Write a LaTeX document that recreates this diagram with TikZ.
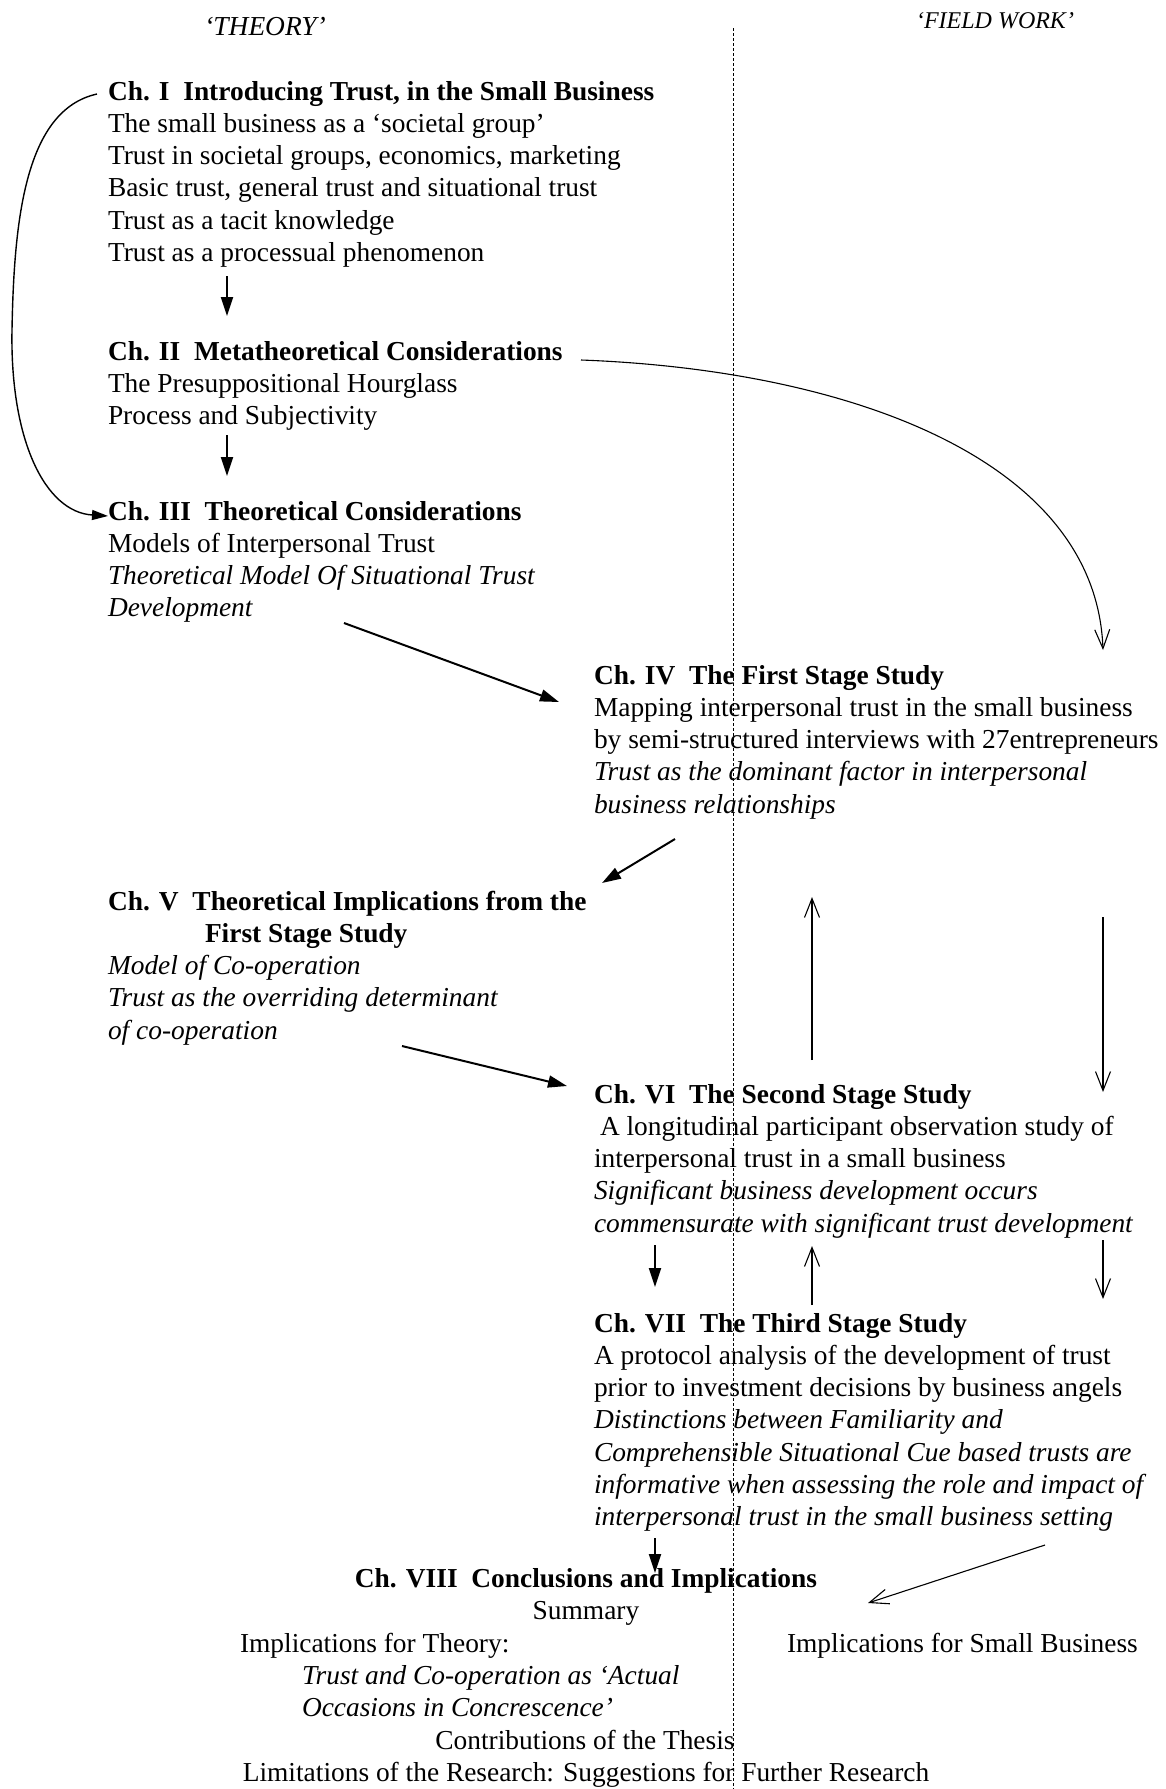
\documentclass[tikz,border=0pt]{standalone}
\usepackage{fontspec}
\setmainfont{Liberation Serif}
\usetikzlibrary{arrows.meta}
\begin{document}
% Multi-line nodes are placed by the baseline of their last line.
\begin{tikzpicture}[x=1pt,y=-1pt,
  txt/.style={anchor=base west,inner sep=0pt,outer sep=0pt,align=left,
    font=\fontsize{27.4}{32.3}\selectfont},
  ctr/.style={anchor=base,inner sep=0pt,outer sep=0pt,align=center,
    font=\fontsize{27.4}{32.3}\selectfont},
  solidarrow/.style={line width=2pt,-{Triangle[length=19pt,width=12pt]}},
  openarrow/.style={line width=1.1pt,-{Straight Barb[length=19pt,width=15pt]}},
  divider/.style={line width=0.9pt,dash pattern=on 3pt off 2pt}]
\useasboundingbox (0,0) rectangle (1165,1789);
\fill[white] (0,0) rectangle (1165,1789);

% column divider
\coordinate (divtop) at (733,28);
\coordinate (divbot) at (733,1789);
\draw[divider] (divtop) -- (divbot);

% column headings
\node[ctr,font=\fontsize{27.4}{32.3}\selectfont\itshape] (htheory) at (265,35) {‘THEORY’};
\node[ctr,font=\fontsize{24}{28}\selectfont\itshape] (hfield) at (995,28) {‘FIELD WORK’};

% chapters
\node[txt] (ch1) at (108,261.5) {\textbf{Ch. I\ \ Introducing Trust, in the Small Business}\\
The small business as a ‘societal group’\\
Trust in societal groups, economics, marketing\\
Basic trust, general trust and situational trust\\
Trust as a tacit knowledge\\
Trust as a processual phenomenon};

\node[txt] (ch2) at (108,424.6) {\textbf{Ch. II\ \ Metatheoretical Considerations}\\
The Presuppositional Hourglass\\
Process and Subjectivity};

\node[txt] (ch3) at (108,616.9) {\textbf{Ch. III\ \ Theoretical Considerations}\\
Models of Interpersonal Trust\\
\textit{Theoretical Model Of Situational Trust}\\
\textit{Development}};

\node[txt] (ch4) at (594,813.2) {\textbf{Ch. IV\ \ The First Stage Study}\\
Mapping interpersonal trust in the small business\\
by semi-structured interviews with 27entrepreneurs\\
\textit{Trust as the dominant factor in interpersonal}\\
\textit{business relationships}};

\node[txt] (ch5) at (108,1039.2) {\textbf{Ch. V\ \ Theoretical Implications from the}\\
\hspace*{97pt}\textbf{First Stage Study}\\
\textit{Model of Co-operation}\\
\textit{Trust as the overriding determinant}\\
\textit{of co-operation}};

\node[txt] (ch6) at (594,1232.2) {\textbf{Ch. VI\ \ The Second Stage Study}\\
\hspace*{6pt}A longitudinal participant observation study of\\
interpersonal trust in a small business\\
\textit{Significant business development occurs}\\
\textit{commensurate with significant trust development}};

\node[txt] (ch7) at (594,1525.8) {\textbf{Ch. VII\ \ The Third Stage Study}\\
A protocol analysis of the development of trust\\
prior to investment decisions by business angels\\
\textit{Distinctions between Familiarity and}\\
\textit{Comprehensible Situational Cue based trusts are}\\
\textit{informative when assessing the role and impact of}\\
\textit{interpersonal trust in the small business setting}};

% conclusions
\node[ctr] (ch8) at (586,1587) {\textbf{Ch. VIII\ \ Conclusions and Implications}};
\node[ctr] (summary) at (586,1619) {Summary};
\node[txt] (imptheory) at (240,1652) {Implications for Theory:};
\node[txt] (impbiz) at (787,1652) {Implications for Small Business};
\node[txt] (actual) at (302,1716.3) {\textit{Trust and Co-operation as ‘Actual}\\
\textit{Occasions in Concrescence’}};
\node[ctr] (contrib) at (585,1749) {Contributions of the Thesis};
\node[ctr] (limits) at (586,1781) {Limitations of the Research: Suggestions for Further Research};

% connector end points
\coordinate (a1s) at (227,276);   \coordinate (a1e) at (227,316);
\coordinate (a2s) at (227,435);   \coordinate (a2e) at (227,476);
\coordinate (a3s) at (344,623);   \coordinate (a3e) at (559,702);
\coordinate (a4s) at (675,839);   \coordinate (a4e) at (602,883);
\coordinate (a5s) at (402,1046);  \coordinate (a5e) at (567,1086);
\coordinate (a6s) at (655,1245);  \coordinate (a6e) at (655,1287);
\coordinate (a7s) at (655,1538);  \coordinate (a7e) at (655,1573);
\coordinate (lcs) at (97,94);     \coordinate (lcm) at (12,330);
\coordinate (lce) at (108,516);
\coordinate (rcs) at (581,360);   \coordinate (rce) at (1103,650);
\coordinate (u1s) at (812,1060);  \coordinate (u1e) at (812,897);
\coordinate (d1s) at (1103,917);  \coordinate (d1e) at (1103,1092);
\coordinate (u2s) at (812,1305);  \coordinate (u2e) at (812,1246);
\coordinate (d2s) at (1103,1240); \coordinate (d2e) at (1103,1299);
\coordinate (fbs) at (1045,1545); \coordinate (fbe) at (868,1603);

% theory flow
\draw[solidarrow] (a1s) -- (a1e);
\draw[solidarrow] (a2s) -- (a2e);
\draw[solidarrow] (a3s) -- (a3e);
\draw[solidarrow] (a4s) -- (a4e);
\draw[solidarrow] (a5s) -- (a5e);
\draw[solidarrow] (a6s) -- (a6e);
\draw[solidarrow] (a7s) -- (a7e);
\draw[line width=1.4pt,-{Triangle[length=16pt,width=10pt]}]
  (lcs) .. controls (25,110) and (14,220) .. (lcm)
        .. controls (10,440) and (45,512) .. (lce);

% field work links
\draw[openarrow] (rcs) .. controls (850,370) and (1096,460) .. (rce);
\draw[openarrow] (u1s) -- (u1e);
\draw[openarrow] (d1s) -- (d1e);
\draw[openarrow] (u2s) -- (u2e);
\draw[openarrow] (d2s) -- (d2e);
\draw[openarrow] (fbs) -- (fbe);
\end{tikzpicture}
\end{document}
